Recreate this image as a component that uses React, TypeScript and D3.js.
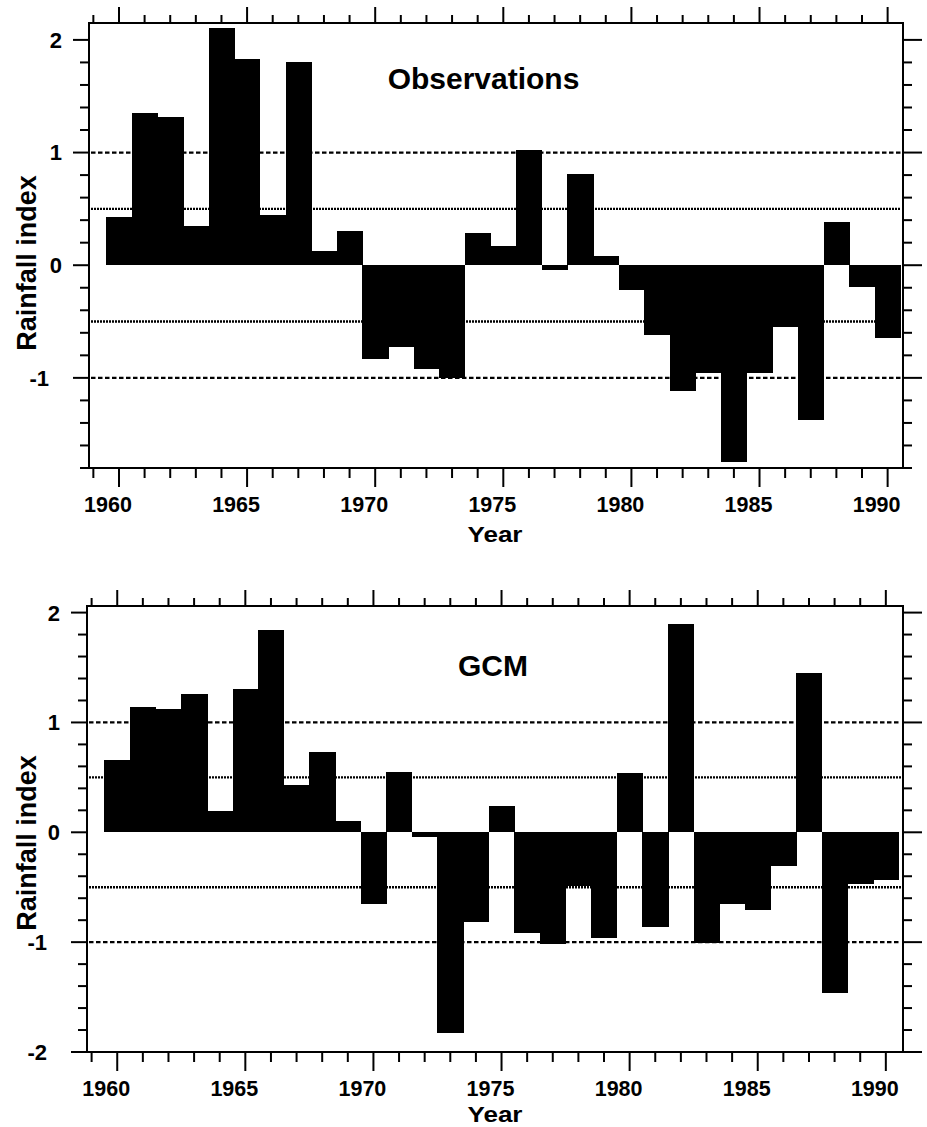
import React from "react";
import * as d3 from "d3";

// Annual rainfall index, 1960–1990
const years: number[] = d3.range(1960, 1991);

const observations: number[] = [
  0.43, 1.35, 1.32, 0.35, 2.11, 1.83, 0.45, 1.8, 0.13, 0.3,
  -0.83, -0.73, -0.92, -1.0, 0.29, 0.17, 1.02, -0.04, 0.81, 0.08,
  -0.22, -0.62, -1.12, -0.96, -1.75, -0.96, -0.55, -1.37, 0.38, -0.19,
  -0.65,
];

const gcm: number[] = [
  0.66, 1.14, 1.12, 1.26, 0.19, 1.3, 1.84, 0.43, 0.73, 0.1,
  -0.65, 0.55, -0.04, -1.83, -0.82, 0.24, -0.92, -1.02, -0.485, -0.96,
  0.54, -0.86, 1.9, -1.01, -0.65, -0.71, -0.31, 1.45, -1.46, -0.47,
  -0.43,
];

const yearTickLabels: number[] = [1960, 1965, 1970, 1975, 1980, 1985, 1990];
const obsYTicks: number[] = [-1, 0, 1, 2];
const gcmYTicks: number[] = [-2, -1, 0, 1, 2];
const dashedLevels: number[] = [1, -1];
const dottedLevels: number[] = [0.5, -0.5];

const FONT = "'Liberation Sans', Arial, Helvetica, sans-serif";

type PanelProps = {
  values: number[];
  title: string;
  titleX: number;
  titleY: number;
  left: number;
  right: number;
  top: number;
  bottom: number;
  xDomain: [number, number];
  yDomain: [number, number];
  yMajor: number[];
  labelY: number;
  yearY: number;
};

function Panel(p: PanelProps) {
  const x = d3.scaleLinear().domain(p.xDomain).range([p.left, p.right]);
  const y = d3.scaleLinear().domain(p.yDomain).range([p.bottom, p.top]);

  const minorYears = d3.range(Math.ceil(p.xDomain[0]), Math.floor(p.xDomain[1]) + 1);
  const yMinor = d3
    .range(Math.round(p.yDomain[0] * 5), Math.floor(p.yDomain[1] * 5 + 1e-6) + 1)
    .map((k) => k / 5);
  const isMajorY = (v: number) => Math.abs(v - Math.round(v)) < 1e-6;

  return (
    <g>
      {/* reference levels */}
      {dashedLevels.map((lv) => (
        <line
          key={"d" + lv}
          x1={p.left + 2}
          x2={p.right - 2}
          y1={y(lv)}
          y2={y(lv)}
          stroke="#000"
          strokeWidth={2.2}
          strokeDasharray="4.5 2.5"
        />
      ))}
      {dottedLevels.map((lv) => (
        <line
          key={"o" + lv}
          x1={p.left + 2}
          x2={p.right - 2}
          y1={y(lv)}
          y2={y(lv)}
          stroke="#000"
          strokeWidth={2.4}
          strokeDasharray="2 1"
        />
      ))}

      {/* bars */}
      <g shapeRendering="crispEdges">
        {years.map((yr, i) => {
          const v = p.values[i];
          const x0 = x(yr - 0.5);
          const x1 = x(yr + 0.5);
          const y0 = y(Math.max(0, v));
          const y1 = y(Math.min(0, v));
          return (
            <rect
              key={yr}
              x={x0}
              y={y0}
              width={x1 - x0 + 0.6}
              height={y1 - y0}
              fill="#000"
            />
          );
        })}
      </g>

      {/* frame */}
      <rect
        x={p.left}
        y={p.top}
        width={p.right - p.left}
        height={p.bottom - p.top}
        fill="none"
        stroke="#000"
        strokeWidth={2}
      />

      {/* x ticks, top and bottom */}
      {minorYears.map((yr) => {
        const major = yr % 5 === 0;
        const xx = x(yr);
        return (
          <g key={"xt" + yr} stroke="#000" strokeWidth={2}>
            <line x1={xx} x2={xx} y1={p.bottom} y2={p.bottom + (major ? 19 : 10)} />
            <line x1={xx} x2={xx} y1={p.top} y2={p.top - (major ? 16 : 8)} />
          </g>
        );
      })}

      {/* y ticks, left and right */}
      {yMinor.map((v) => {
        const major = isMajorY(v);
        const yy = y(v);
        return (
          <g key={"yt" + v} stroke="#000" strokeWidth={2}>
            <line x1={p.left} x2={p.left - (major ? 16 : 9)} y1={yy} y2={yy} />
            <line x1={p.right} x2={p.right + (major ? 19 : 9)} y1={yy} y2={yy} />
          </g>
        );
      })}

      {/* y tick labels */}
      {p.yMajor.map((v) => (
        <text
          key={"yl" + v}
          x={v < 0 ? p.left - 40 : p.left - 27}
          y={y(v)}
          dy="0.36em"
          textAnchor="end"
          fontFamily={FONT}
          fontWeight="bold"
          fontSize={22}
        >
          {v}
        </text>
      ))}

      {/* x tick labels */}
      {yearTickLabels.map((yr) => (
        <text
          key={"xl" + yr}
          x={x(yr) - 11}
          y={p.bottom + 44}
          textAnchor="middle"
          fontFamily={FONT}
          fontWeight="bold"
          fontSize={21.5}
        >
          {yr}
        </text>
      ))}

      {/* axis titles */}
      <text
        x={495}
        y={p.yearY}
        textAnchor="middle"
        fontFamily={FONT}
        fontWeight="bold"
        fontSize={22.5}
        textLength={55}
        lengthAdjust="spacingAndGlyphs"
      >
        Year
      </text>
      <text
        transform={`translate(36,${p.labelY}) rotate(-90)`}
        textAnchor="middle"
        fontFamily={FONT}
        fontWeight="bold"
        fontSize={27}
      >
        Rainfall index
      </text>

      {/* panel title */}
      <text
        x={p.titleX}
        y={p.titleY}
        textAnchor="middle"
        fontFamily={FONT}
        fontWeight="bold"
        fontSize={30}
      >
        {p.title}
      </text>
    </g>
  );
}

export default function App() {
  return (
    <svg
      width={927}
      height={1127}
      viewBox="0 0 927 1127"
      style={{ position: "absolute", left: 0, top: 0, background: "#fff" }}
    >
      <rect x={0} y={0} width={927} height={1127} fill="#fff" />
      <Panel
        values={observations}
        title="Observations"
        titleX={483.5}
        titleY={89}
        left={89}
        right={903}
        top={23}
        bottom={468}
        xDomain={[1958.83, 1990.6]}
        yDomain={[-1.8, 2.15]}
        yMajor={obsYTicks}
        labelY={263}
        yearY={542}
      />
      <Panel
        values={gcm}
        title="GCM"
        titleX={493}
        titleY={676}
        left={87}
        right={903}
        top={606}
        bottom={1052}
        xDomain={[1958.82, 1990.67]}
        yDomain={[-2, 2.06]}
        yMajor={gcmYTicks}
        labelY={843}
        yearY={1121.5}
      />
    </svg>
  );
}
